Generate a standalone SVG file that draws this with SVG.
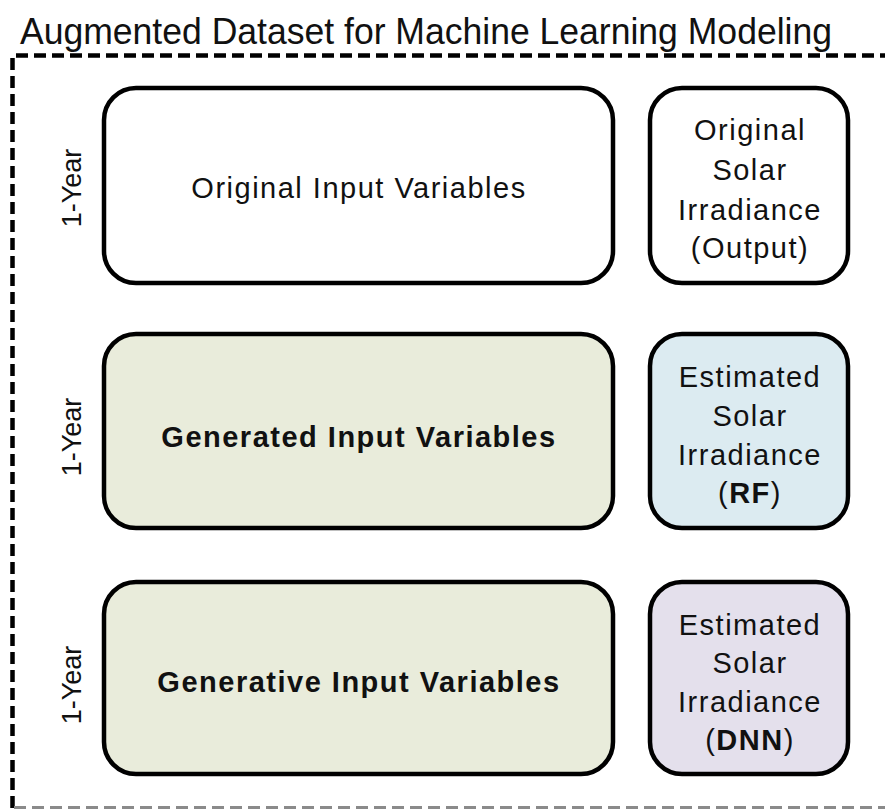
<svg xmlns="http://www.w3.org/2000/svg" width="885" height="810" viewBox="0 0 885 810">
<style>
text{font-family:"Liberation Sans",Arial,sans-serif;fill:#111;}
.t{font-size:37px;}
.yr{font-size:27px;text-anchor:middle;}
.lbl{font-size:29px;text-anchor:middle;letter-spacing:1.5px;}
.b{font-weight:bold;}
.box{stroke:#000;stroke-width:4.5;}
.dash{stroke:#000;stroke-width:4.5;stroke-dasharray:12 6;fill:none;}
</style>
<rect width="885" height="810" fill="#fff"/>
<text class="t" x="20" y="44" textLength="812" lengthAdjust="spacingAndGlyphs">Augmented Dataset for Machine Learning Modeling</text>
<g id="border">
<path class="dash" d="M12.5 808 V55.5 H885"/>
<path d="M14 807.5 H885" stroke="#8a8a8a" stroke-width="3" stroke-dasharray="12 6" fill="none"/>
</g>
<g id="year1"><text class="yr" transform="translate(81,188) rotate(-90)">1-Year</text></g>
<g id="year2"><text class="yr" transform="translate(81,437) rotate(-90)">1-Year</text></g>
<g id="year3"><text class="yr" transform="translate(81,685) rotate(-90)">1-Year</text></g>
<g id="orig-input">
<rect class="box" x="104" y="88" width="509" height="195" rx="32" fill="#fff"/>
<text class="lbl" x="359" y="198">Original Input Variables</text>
</g>
<g id="orig-output">
<rect class="box" x="650" y="88" width="198" height="195" rx="32" fill="#fff"/>
<text class="lbl" x="750" y="140">Original</text>
<text class="lbl" x="750" y="180">Solar</text>
<text class="lbl" x="750" y="220">Irradiance</text>
<text class="lbl" x="750" y="258">(Output)</text>
</g>
<g id="gen-input">
<rect class="box" x="104" y="334" width="509" height="194" rx="32" fill="#E9ECDB"/>
<text class="lbl b" x="359" y="447">Generated Input Variables</text>
</g>
<g id="rf-output">
<rect class="box" x="650" y="334" width="198" height="194" rx="32" fill="#DCEBF1"/>
<text class="lbl" x="750" y="387">Estimated</text>
<text class="lbl" x="750" y="426">Solar</text>
<text class="lbl" x="750" y="465">Irradiance</text>
<text class="lbl" x="750" y="503">(<tspan class="b">RF</tspan>)</text>
</g>
<g id="genv-input">
<rect class="box" x="104" y="582" width="509" height="192" rx="32" fill="#E9ECDB"/>
<text class="lbl b" x="359" y="692">Generative Input Variables</text>
</g>
<g id="dnn-output">
<rect class="box" x="650" y="582" width="198" height="192" rx="32" fill="#E4E0EC"/>
<text class="lbl" x="750" y="635">Estimated</text>
<text class="lbl" x="750" y="673">Solar</text>
<text class="lbl" x="750" y="712">Irradiance</text>
<text class="lbl" x="750" y="750">(<tspan class="b">DNN</tspan>)</text>
</g>
<g id="connectors"></g>
</svg>
